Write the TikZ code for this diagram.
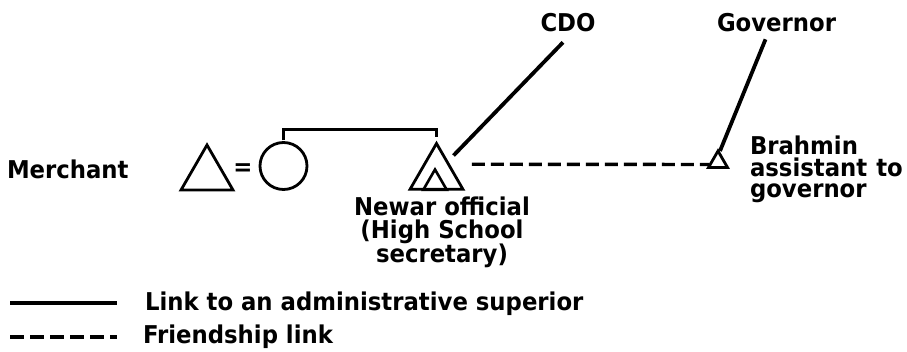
\documentclass[tikz,border=0pt]{standalone}
\usepackage{fontspec}
\setmainfont{DejaVu Sans}
\newfontfamily\lblfam{DejaVu Sans Bold}[FakeStretch=0.93]
\usetikzlibrary{shapes.geometric,calc}
\begin{document}
\begin{tikzpicture}[x=1pt,y=-1pt,
  lbl/.style={font=\lblfam\fontsize{24.5}{23}\selectfont, inner sep=0pt, outer sep=0pt},
  kin/.style={draw, line width=2.8pt, inner sep=0pt, outer sep=0pt},
  tri/.style={kin, regular polygon, regular polygon sides=3},
  admin/.style={line width=3.8pt},
  bracket/.style={line width=3pt},
  friend/.style={line width=3.4pt, dash pattern=on 13pt off 6pt}]
\useasboundingbox (0,0) rectangle (907,352);
% kin symbols
\node[tri, minimum size=60pt] (m) at (207,175) {};
\node[lbl, anchor=base west] (ml) at (7,179) {Merchant};
\node[lbl, anchor=base] (eq) at (243,176) {=};
\node[kin, circle, minimum size=47pt] (w) at (283.5,166) {};
\node[tri, minimum size=61pt] (n) at (436.5,174) {};
\node[tri, minimum size=27pt, line width=2.6pt] (ni) at (435,183) {};
\node[tri, minimum size=22pt] (b) at (718,162) {};
% labels
\node[lbl, anchor=base] (cdo) at (568,32) {CDO};
\node[lbl, anchor=base west] (gov) at (717,32) {Governor};
\node[lbl, anchor=base, align=center] (nl) at (442,263) {Newar official\\(High School\\secretary)};
\node[lbl, anchor=base west, align=left, font=\lblfam\fontsize{24.5}{21.5}\selectfont] (bl) at (750,198) {Brahmin\\assistant\hspace{9pt}to\\governor};
% connectors
\draw[bracket] ($(w.north)+(0,-2)$) -- ++(0,-11) -| ($(n.corner 1)+(0,-6)$);
\draw[admin] ($(n.corner 1)+(17,12)$) -- ($(cdo.south)+(-5,10)$);
\draw[admin] ($(b.corner 1)+(2,0)$) -- ($(gov.south)+(-11,7)$);
\draw[friend] ($(n.corner 3)+(9,-25)$) -- ($(b.corner 2)+(1,-3)$);
% legend
\coordinate (s1) at (10,303);
\coordinate (s2) at (117,303);
\coordinate (d1) at (10,337);
\coordinate (d2) at (117,337);
\draw[admin] (s1) -- (s2);
\draw[friend, dash pattern=on 14pt off 6pt] (d1) -- (d2);
\node[lbl, anchor=base west] (ll) at (145,311) {Link to an administrative superior};
\node[lbl, anchor=base west] (fl) at (143,344) {Friendship link};
\end{tikzpicture}
\end{document}
